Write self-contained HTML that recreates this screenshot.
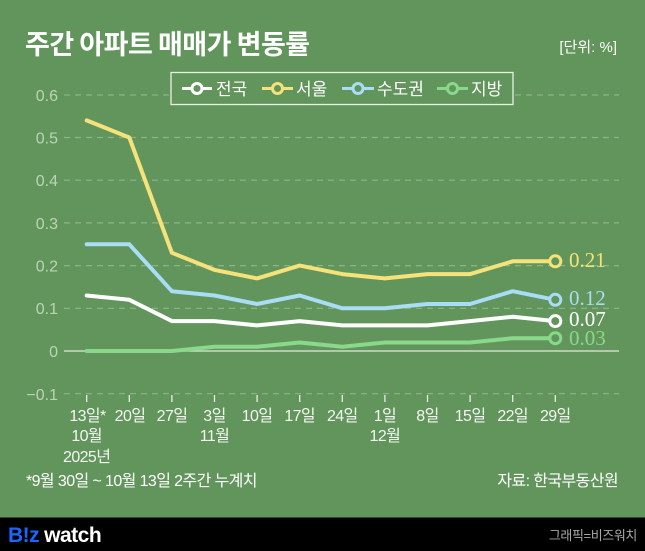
<!DOCTYPE html>
<html><head><meta charset="utf-8"><style>
html,body{margin:0;padding:0;background:#62955c;}
svg{display:block;}
.k{font-family:"Liberation Sans","Noto Sans CJK KR",sans-serif;}
</style></head><body>
<svg width="645" height="551" viewBox="0 0 645 551" xmlns="http://www.w3.org/2000/svg" class="k">
<rect width="645" height="551" fill="#62955c"/>
<!-- title -->
<text x="25" y="54" font-size="27" font-weight="bold" fill="#fff" font-family="Noto Sans CJK KR, sans-serif" letter-spacing="-0.5">주간 아파트 매매가 변동률</text>
<text x="617" y="52" font-size="15" fill="#fff" text-anchor="end" font-family="Liberation Sans, Noto Sans CJK KR, sans-serif">[단위: %]</text>

<!-- grid -->
<g stroke="#8db487" stroke-width="1.2" stroke-dasharray="6,5">
<line x1="64" x2="619" y1="95" y2="95"/>
<line x1="64" x2="619" y1="137.5" y2="137.5"/>
<line x1="64" x2="619" y1="180.2" y2="180.2"/>
<line x1="64" x2="619" y1="222.9" y2="222.9"/>
<line x1="64" x2="619" y1="265.6" y2="265.6"/>
<line x1="64" x2="619" y1="308.3" y2="308.3"/>
<line x1="64" x2="619" y1="393.7" y2="393.7"/>
</g>
<line x1="64" x2="619" y1="351" y2="351" stroke="#c9dcc5" stroke-width="1.5"/>
<!-- ticks -->
<g stroke="#e8efe6" stroke-width="1.3">
<line x1="86.7" x2="86.7" y1="395" y2="402"/><line x1="129.3" x2="129.3" y1="395" y2="402"/>
<line x1="171.9" x2="171.9" y1="395" y2="402"/><line x1="214.5" x2="214.5" y1="395" y2="402"/>
<line x1="257.1" x2="257.1" y1="395" y2="402"/><line x1="299.7" x2="299.7" y1="395" y2="402"/>
<line x1="342.3" x2="342.3" y1="395" y2="402"/><line x1="384.9" x2="384.9" y1="395" y2="402"/>
<line x1="427.5" x2="427.5" y1="395" y2="402"/><line x1="470.1" x2="470.1" y1="395" y2="402"/>
<line x1="512.7" x2="512.7" y1="395" y2="402"/><line x1="555.3" x2="555.3" y1="395" y2="402"/>
</g>
<!-- y labels -->
<g font-size="16" fill="#bcd3b7" text-anchor="end">
<text x="58" y="101">0.6</text>
<text x="58" y="143.5">0.5</text>
<text x="58" y="186">0.4</text>
<text x="58" y="229">0.3</text>
<text x="58" y="271.5">0.2</text>
<text x="58" y="314">0.1</text>
<text x="58" y="357">0</text>
<text x="58" y="400">−0.1</text>
</g>
<!-- x labels -->
<g font-size="16" fill="#f4f6f2" text-anchor="middle" font-family="Liberation Sans, Noto Sans CJK KR, sans-serif" letter-spacing="-0.6">
<text x="87.5" y="421">13일*</text>
<text x="130" y="421">20일</text>
<text x="172" y="421">27일</text>
<text x="214.5" y="421">3일</text>
<text x="257" y="421">10일</text>
<text x="299.7" y="421">17일</text>
<text x="342.3" y="421">24일</text>
<text x="384.9" y="421">1일</text>
<text x="427.5" y="421">8일</text>
<text x="470.1" y="421">15일</text>
<text x="512.7" y="421">22일</text>
<text x="555.3" y="421">29일</text>
<text x="86.7" y="441">10월</text>
<text x="214.5" y="441">11월</text>
<text x="384.9" y="441">12월</text>
<text x="86.7" y="462">2025년</text>
</g>
<text x="26" y="486" font-size="16" fill="#fff" letter-spacing="-0.6" font-family="Liberation Sans, Noto Sans CJK KR, sans-serif">*9월 30일 ~ 10월 13일 2주간 누계치</text>
<text x="618" y="486" font-size="16" fill="#fff" text-anchor="end" letter-spacing="-0.6" font-family="Liberation Sans, Noto Sans CJK KR, sans-serif">자료: 한국부동산원</text>

<!-- series -->
<g fill="none" stroke-width="4" stroke-linejoin="round" stroke-linecap="round">
<polyline stroke="#89d88c" points="86.7,351 129.3,351 171.9,351 214.5,346.7 257.1,346.7 299.7,342.5 342.3,346.7 384.9,342.5 427.5,342.5 470.1,342.5 512.7,338.2 555.3,338.2"/>
<polyline stroke="#ffffff" points="86.7,295.5 129.3,299.8 171.9,321.1 214.5,321.1 257.1,325.4 299.7,321.1 342.3,325.4 384.9,325.4 427.5,325.4 470.1,321.1 512.7,316.8 555.3,321.1"/>
<polyline stroke="#a9dcf5" points="86.7,244.3 129.3,244.3 171.9,291.2 214.5,295.5 257.1,304 299.7,295.5 342.3,308.3 384.9,308.3 427.5,304 470.1,304 512.7,291.2 555.3,299.8"/>
<polyline stroke="#f6e27b" points="86.7,120.4 129.3,137.5 171.9,252.8 214.5,269.9 257.1,278.4 299.7,265.6 342.3,274.1 384.9,278.4 427.5,274.1 470.1,274.1 512.7,261.3 555.3,261.3"/>
</g>
<g fill="#62955c" stroke-width="3">
<circle cx="555.3" cy="338.2" r="5.5" stroke="#89d88c"/>
<circle cx="555.3" cy="321.1" r="5.5" stroke="#ffffff"/>
<circle cx="555.3" cy="299.8" r="5.5" stroke="#a9dcf5"/>
<circle cx="555.3" cy="261.3" r="5.5" stroke="#f6e27b"/>
</g>
<g font-size="21" font-family="Liberation Serif, serif">
<text x="569" y="267" fill="#f6e27b">0.21</text>
<text x="569" y="305" fill="#a9dcf5">0.12</text>
<text x="569" y="326" fill="#ffffff">0.07</text>
<text x="569" y="345" fill="#89d88c">0.03</text>
</g>

<!-- legend -->
<rect x="171" y="72.5" width="342" height="32" fill="#62955c" stroke="#e9f0e7" stroke-width="1.3"/>
<g stroke-width="3" fill="#62955c">
<line x1="182" x2="212" y1="88.5" y2="88.5" stroke="#fff"/><circle cx="197" cy="88.5" r="5" stroke="#fff"/>
<line x1="262" x2="293" y1="88.5" y2="88.5" stroke="#f6e27b"/><circle cx="277.5" cy="88.5" r="5" stroke="#f6e27b"/>
<line x1="342" x2="374" y1="88.5" y2="88.5" stroke="#a9dcf5"/><circle cx="358" cy="88.5" r="5" stroke="#a9dcf5"/>
<line x1="437" x2="468" y1="88.5" y2="88.5" stroke="#89d88c"/><circle cx="452.5" cy="88.5" r="5" stroke="#89d88c"/>
</g>
<g font-size="17" fill="#fff" font-family="Noto Sans CJK KR, sans-serif">
<text x="216" y="95">전국</text>
<text x="296" y="95">서울</text>
<text x="377" y="95">수도권</text>
<text x="471" y="95">지방</text>
</g>

<!-- footer -->
<rect x="0" y="517.5" width="645" height="34" fill="#000"/>
<text x="8" y="542" font-size="21" font-weight="bold" font-family="Liberation Sans, sans-serif" letter-spacing="-0.5"><tspan fill="#1a66ff">B!z</tspan><tspan fill="#fff" dx="5">watch</tspan></text>
<text x="637" y="540" font-size="13" fill="#a8a8a8" text-anchor="end" font-family="Liberation Sans, Noto Sans CJK KR, sans-serif" letter-spacing="-0.4">그래픽=비즈워치</text>
</svg>
</body></html>
